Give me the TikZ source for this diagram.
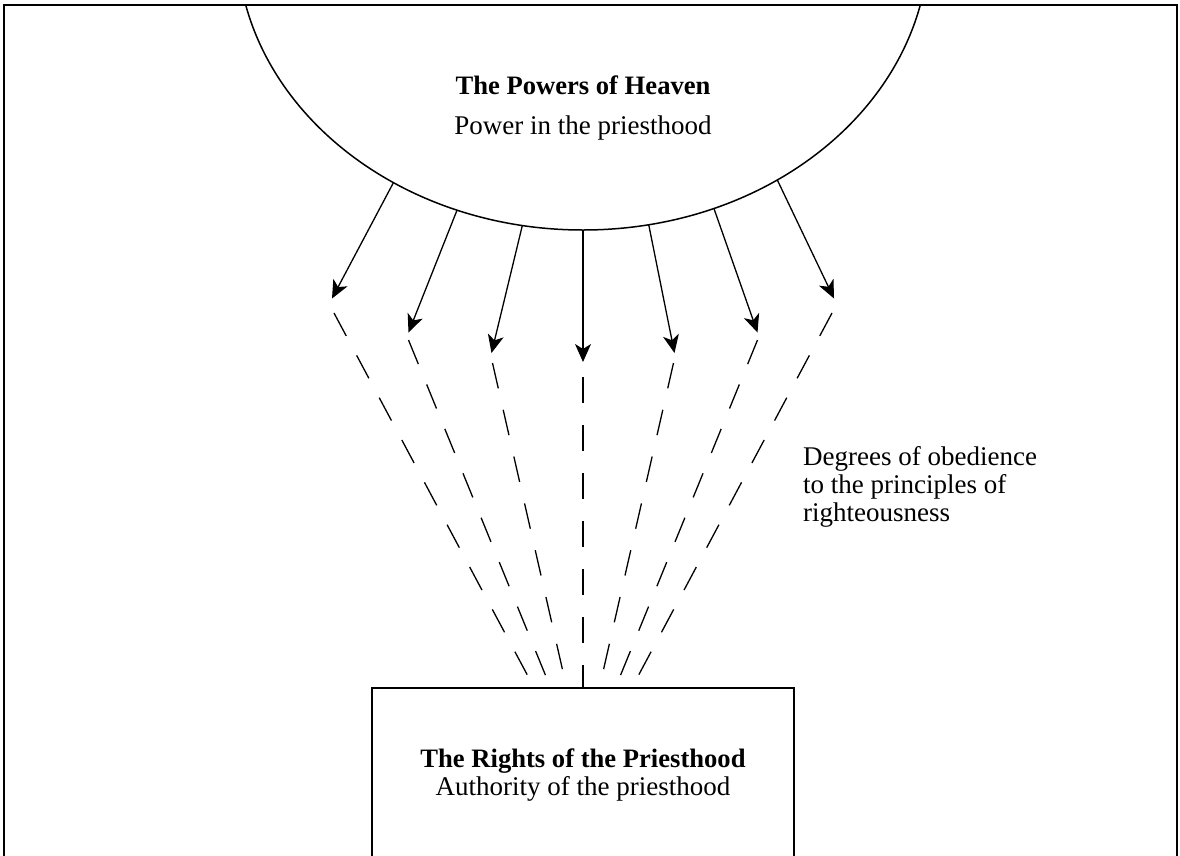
\documentclass[tikz,border=0pt]{standalone}
\usepackage{fontspec}
\setmainfont{Liberation Serif}
\usetikzlibrary{arrows.meta,shapes.geometric}
\begin{document}
\begin{tikzpicture}[x=1pt,y=-1pt,
  ray/.style={line width=1.3pt,-{Stealth[length=18pt,width=16pt,inset=5pt]}},
  faint/.style={line width=1.3pt,dash pattern=on 26pt off 22pt},
  txt/.style={font=\fontsize{27}{30}\selectfont,inner sep=0pt,anchor=base},
  boldtxt/.style={txt,font=\fontsize{26.6}{30}\selectfont\bfseries},
]
\useasboundingbox (0,0) rectangle (1180,855);
\clip (0,0) rectangle (1180,855);
\fill[white] (0,0) rectangle (1180,855);

% outer frame, open at the bottom edge
\draw[line width=2pt] (3.5,870) -- (3.5,5) -- (1177,5) -- (1177,870);

% the large source shape, cut off by the frame
\begin{scope}
  \clip (3.5,5) rectangle (1177,855);
  \node[draw,ellipse,line width=1.5pt,minimum width=692pt,minimum height=580pt,
        inner sep=0pt,outer sep=0pt] (heaven) at (583,-60) {};
\end{scope}

% the receiving box, running past the lower edge
\node[draw,line width=1.5pt,minimum width=422pt,minimum height=220pt,
      anchor=north,inner sep=0pt,outer sep=0pt] (rights) at (583,688) {};

% labels
\node[boldtxt] (heavenTitle) at (583,94) {The Powers of Heaven};
\node[txt] (heavenSub) at (583,134) {Power in the priesthood};
\node[boldtxt] (rightsTitle) at (583,767) {The Rights of the Priesthood};
\node[txt] (rightsSub) at (583,795) {Authority of the priesthood};
\node[txt,anchor=base west] (degA) at (803,465) {Degrees of obedience};
\node[txt,anchor=base west] (degB) at (803,493) {to the principles of};
\node[txt,anchor=base west] (degC) at (803,521) {righteousness};

% arrow tips
\coordinate (t1) at (332,298.5);
\coordinate (t2) at (408.5,332.5);
\coordinate (t3) at (491.5,353);
\coordinate (t4) at (583,362);
\coordinate (t5) at (674.5,353);
\coordinate (t6) at (757.5,332.5);
\coordinate (t7) at (834,298.5);

% where the dashed rays begin
\coordinate (d1) at (334,313);
\coordinate (d2) at (408.5,340);
\coordinate (d3) at (492.5,363);
\coordinate (d4) at (583,377);
\coordinate (d5) at (673.5,363);
\coordinate (d6) at (757.5,340);
\coordinate (d7) at (832,313);

% where the dashed rays meet the box
\coordinate (b1) at (534.3,688);
\coordinate (b2) at (550.7,688);
\coordinate (b3) at (566.7,688);
\coordinate (b4) at (583,688);
\coordinate (b5) at (599.3,688);
\coordinate (b6) at (615.3,688);
\coordinate (b7) at (631.7,688);

% solid rays leaving the source
\draw[ray] (heaven.-128.7) -- (t1);
\draw[ray] (heaven.-115.6) -- (t2);
\draw[ray] (heaven.-102.7) -- (t3);
\draw[ray] (heaven.-90)    -- (t4);
\draw[ray] (heaven.-77.3)  -- (t5);
\draw[ray] (heaven.-64.4)  -- (t6);
\draw[ray] (heaven.-51.3)  -- (t7);

% dashed rays converging on the box
\foreach \i in {1,...,7}{
  \draw[faint] (d\i) -- (b\i);
}
\end{tikzpicture}
\end{document}
